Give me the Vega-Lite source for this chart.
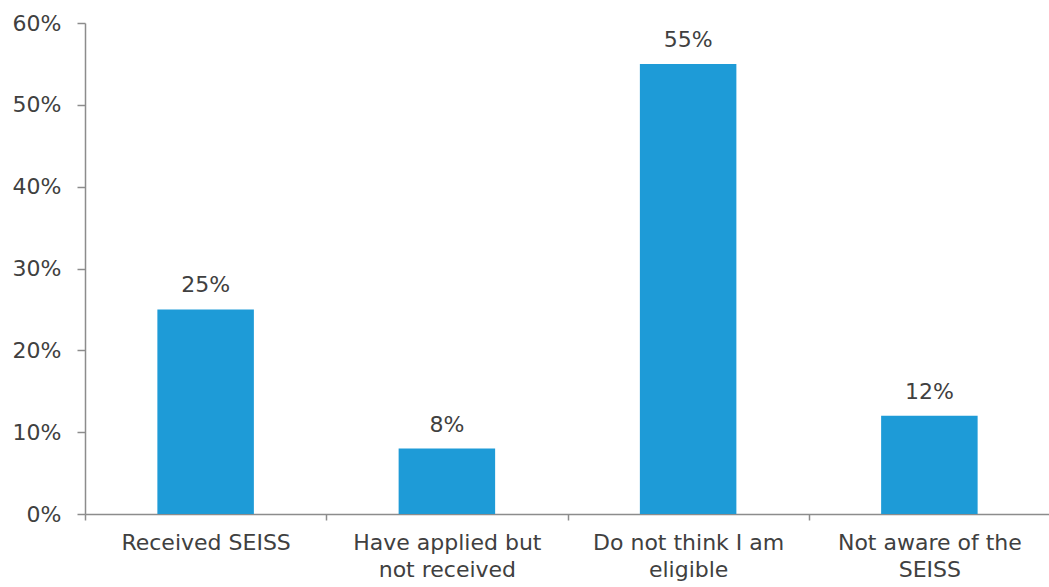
{
  "$schema": "https://vega.github.io/schema/vega-lite/v6.json",
  "autosize": {"type": "none"},
  "width": 965,
  "height": 491,
  "padding": {"left": 85, "top": 23, "right": 0, "bottom": 73},
  "background": "white",
  "config": {
    "view": {"stroke": null},
    "font": "DejaVu Sans",
    "axis": {"grid": false, "domainColor": "#8c8c8c", "tickColor": "#8c8c8c", "domainWidth": 1.5, "tickWidth": 1.5, "labelColor": "#404040", "labelFontSize": 22, "labelFont": "DejaVu Sans", "labelLimit": 0, "titleFontSize": 0}
  },
  "data": {
    "values": [
      {"category": "Received SEISS", "share": 0.25},
      {"category": "Have applied but not received", "share": 0.08},
      {"category": "Do not think I am eligible", "share": 0.55},
      {"category": "Not aware of the SEISS", "share": 0.12}
    ]
  },
  "encoding": {
    "x": {
      "field": "category", "type": "nominal", "sort": null,
      "scale": {"type": "band", "paddingInner": 0, "paddingOuter": 0},
      "axis": {
        "title": null, "labelAngle": 0, "tickBand": "extent", "tickSize": 6,
        "labelPadding": 12, "labelLineHeight": 27, "labelBaseline": "top",
        "labelExpr": "datum.value == 'Have applied but not received' ? ['Have applied but', 'not received'] : datum.value == 'Do not think I am eligible' ? ['Do not think I am', 'eligible'] : datum.value == 'Not aware of the SEISS' ? ['Not aware of the', 'SEISS'] : datum.value"
      }
    },
    "y": {
      "field": "share", "type": "quantitative",
      "scale": {"domain": [0, 0.6], "nice": false},
      "axis": {"title": null, "format": ".0%", "values": [0, 0.1, 0.2, 0.3, 0.4, 0.5, 0.6], "tickSize": 8, "labelPadding": 16}
    }
  },
  "layer": [
    {"mark": {"type": "bar", "color": "#1E9BD7", "width": {"band": 0.4}}},
    {
      "mark": {"type": "text", "baseline": "bottom", "dy": -12, "fontSize": 22, "color": "#404040", "font": "DejaVu Sans"},
      "encoding": {"text": {"field": "share", "type": "quantitative", "format": ".0%"}}
    }
  ]
}
